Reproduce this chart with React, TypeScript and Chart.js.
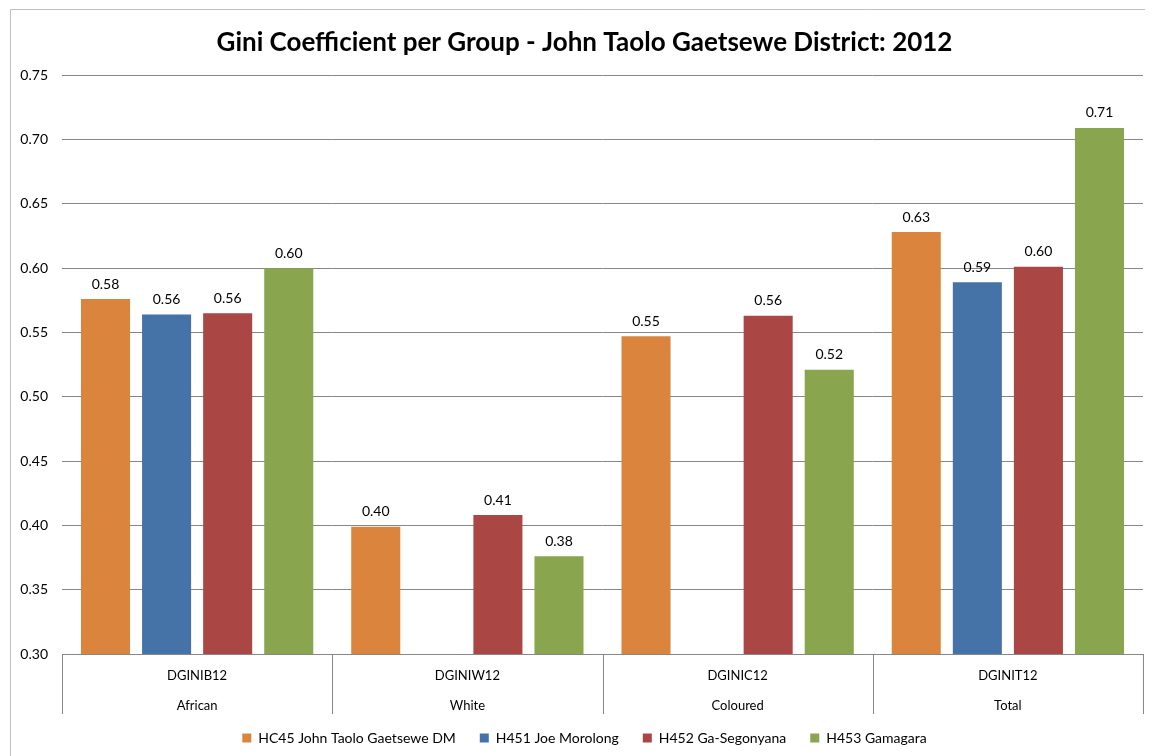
import React, { useEffect, useRef } from "react";
import { Chart, registerables } from "chart.js";

Chart.register(...registerables);

const codes = ["DGINIB12", "DGINIW12", "DGINIC12", "DGINIT12"];
const groups = ["African", "White", "Coloured", "Total"];
const seriesNames = [
  "HC45 John Taolo Gaetsewe DM",
  "H451 Joe Morolong",
  "H452 Ga-Segonyana",
  "H453 Gamagara",
];
const hc45 = [0.576, 0.399, 0.547, 0.628];
const h451 = [0.564, null, null, 0.589];
const h452 = [0.565, 0.408, 0.563, 0.601];
const h453 = [0.6, 0.376, 0.521, 0.709];
const colors = ["#DB843D", "#4572A7", "#AA4643", "#89A54E"];
const yTicks = [0.3, 0.35, 0.4, 0.45, 0.5, 0.55, 0.6, 0.65, 0.7, 0.75];

const FONT = "Lato, 'Noto Sans', sans-serif";

const frame = {
  id: "frame",
  beforeDraw(chart: any) {
    const ctx = chart.ctx;
    ctx.save();
    ctx.fillStyle = "#ffffff";
    ctx.fillRect(0, 0, chart.width, chart.height);
    ctx.strokeStyle = "#BFBFBF";
    ctx.lineWidth = 1;
    ctx.beginPath();
    ctx.moveTo(2.5, chart.height);
    ctx.lineTo(2.5, 1.5);
    ctx.lineTo(chart.width, 1.5);
    ctx.stroke();
    ctx.restore();
  },
};

const separators = {
  id: "separators",
  afterDraw(chart: any) {
    const x = chart.scales.x;
    const ctx = chart.ctx;
    const n = x.ticks.length;
    const bottom = chart.chartArea.bottom;
    ctx.save();
    ctx.strokeStyle = "#878787";
    ctx.lineWidth = 1;
    const half = (x.getPixelForValue(1) - x.getPixelForValue(0)) / 2;
    for (let i = 0; i <= n; i++) {
      const px = Math.round(x.getPixelForValue(i) - half) + 0.5;
      ctx.beginPath();
      ctx.moveTo(px, bottom);
      ctx.lineTo(px, bottom + 60);
      ctx.stroke();
    }
    ctx.restore();
  },
};

const valueLabels = {
  id: "valueLabels",
  afterDatasetsDraw(chart: any) {
    const ctx = chart.ctx;
    ctx.save();
    ctx.font = `14px ${FONT}`;
    ctx.fillStyle = "#000000";
    ctx.textAlign = "center";
    ctx.textBaseline = "bottom";
    chart.data.datasets.forEach((ds: any, di: number) => {
      const meta = chart.getDatasetMeta(di);
      meta.data.forEach((el: any, i: number) => {
        const v = ds.data[i];
        if (v === null || v === undefined) return;
        ctx.fillText(v.toFixed(2), el.x, el.y - 8);
      });
    });
    ctx.restore();
  },
};

export default function App() {
  const ref = useRef<HTMLCanvasElement>(null);
  useEffect(() => {
    if (!ref.current) return;
    const all = [hc45, h451, h452, h453];
    const chart = new Chart(ref.current, {
      type: "bar",
      data: {
        labels: codes.map((c, i) => [c, groups[i]]),
        datasets: seriesNames.map((name, i) => ({
          label: name,
          data: all[i],
          backgroundColor: colors[i],
          borderWidth: 0,
          categoryPercentage: 0.904,
          barPercentage: 0.803,
        })),
      },
      options: {
        animation: false,
        responsive: false,
        maintainAspectRatio: false,
        layout: { padding: { top: 8, right: 10, bottom: 1, left: 18 } },
        plugins: {
          title: {
            display: true,
            text: "Gini Coefficient per Group - John Taolo Gaetsewe District: 2012",
            color: "#000000",
            font: { family: FONT, size: 26, weight: "bold" },
            padding: { top: 11, bottom: 17 },
          },
          legend: {
            position: "bottom",
            labels: {
              color: "#000000",
              font: { family: FONT, size: 14 },
              boxWidth: 9,
              boxHeight: 9,
              padding: 24,
            },
          },
          tooltip: { enabled: false },
        },
        scales: {
          x: {
            grid: { display: false, drawTicks: false },
            border: { display: true, color: "#878787" },
            ticks: {
              color: "#000000",
              font: { family: FONT, size: 13, lineHeight: 2.3 },
              padding: 7,
              maxRotation: 0,
            },
            afterFit(scale: any) {
              scale.height = 53;
              scale._computeLabelArea = () => undefined;
            },
          },
          y: {
            min: 0.3,
            max: 0.75,
            afterBuildTicks(scale: any) {
              scale.ticks = yTicks.map((v) => ({ value: v }));
            },
            grid: { color: "#878787", drawTicks: false },
            border: { display: false },
            ticks: {
              color: "#000000",
              font: { family: FONT, size: 14 },
              padding: 14,
              callback: (v: any) => Number(v).toFixed(2),
            },
            afterFit(scale: any) {
              scale.width = 36;
              scale._computeLabelArea = () => undefined;
            },
          },
        },
      },
      plugins: [frame, separators, valueLabels],
    });
    return () => chart.destroy();
  }, []);
  return (
    <div style={{ width: 1145, height: 748 }}>
      <canvas ref={ref} width={1145} height={748} style={{ display: "block" }} />
    </div>
  );
}
